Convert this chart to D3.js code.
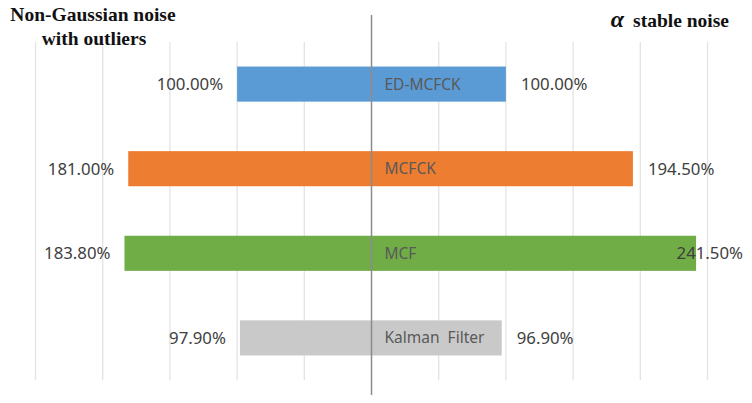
<!DOCTYPE html>
<html><head><meta charset="utf-8">
<script src="https://cdn.jsdelivr.net/npm/d3@7"></script>
<style>body{margin:0;background:#fff}svg{display:block}</style>
</head><body><svg id="c" width="752" height="403"></svg>
<script>
const categories = ["ED-MCFCK", "MCFCK", "MCF", "Kalman  Filter"];
const leftValues = [100.0, 181.0, 183.8, 97.9];   // Non-Gaussian noise with outliers
const rightValues = [100.0, 194.5, 241.5, 96.9];  // alpha stable noise
const colors = ["#5b9bd5", "#ed7d31", "#70ad47", "#c9c9c9"];
const gridTicks = [-250, -200, -150, -100, -50, 0, 50, 100, 150, 200, 250];

const svg = d3.select("#c");
const x = d3.scaleLinear().domain([-250, 250]).range([35.5, 707.5]);
const y = d3.scaleBand().domain(categories).range([42, 380]).paddingInner(0.585).paddingOuter(0.29);

// gridlines
svg.append("g").selectAll("line").data(gridTicks.filter(d => d !== 0)).join("line")
  .attr("x1", d => x(d)).attr("x2", d => x(d)).attr("y1", 42).attr("y2", 380)
  .attr("stroke", "#e3e3e3").attr("stroke-width", 1.3);

const fmt = v => v.toFixed(2) + "%";
const font = "'Noto Sans', sans-serif";
const vfs = 16.8;

// left bars
svg.append("g").selectAll("rect").data(categories).join("rect")
  .attr("x", (d, i) => x(-leftValues[i])).attr("y", d => y(d))
  .attr("width", (d, i) => x(0) - x(-leftValues[i])).attr("height", y.bandwidth())
  .attr("fill", (d, i) => colors[i]);
// right bars
svg.append("g").selectAll("rect").data(categories).join("rect")
  .attr("x", x(0)).attr("y", d => y(d))
  .attr("width", (d, i) => x(rightValues[i]) - x(0)).attr("height", y.bandwidth())
  .attr("fill", (d, i) => colors[i]);

// center axis
svg.append("line").attr("x1", x(0)).attr("x2", x(0)).attr("y1", 15).attr("y2", 395)
  .attr("stroke", "#8c8c8c").attr("stroke-width", 1.5);

// left value labels
svg.append("g").selectAll("text").data(categories).join("text")
  .attr("x", (d, i) => x(-leftValues[i]) - 14).attr("y", d => y(d) + y.bandwidth() / 2)
  .attr("dy", "0.35em").attr("text-anchor", "end")
  .attr("font-family", font).attr("font-size", vfs).attr("fill", "#404040")
  .text((d, i) => fmt(leftValues[i]));
// right value labels
const rightEdge = 743, labelW = 80;
svg.append("g").selectAll("text").data(categories).join("text")
  .attr("y", d => y(d) + y.bandwidth() / 2)
  .attr("dy", "0.35em")
  .attr("text-anchor", (d, i) => x(rightValues[i]) + 15 + labelW > rightEdge ? "end" : "start")
  .attr("x", (d, i) => x(rightValues[i]) + 15 + labelW > rightEdge ? rightEdge : x(rightValues[i]) + 15)
  .attr("font-family", font).attr("font-size", vfs).attr("fill", "#404040")
  .text((d, i) => fmt(rightValues[i]));
// category labels
svg.append("g").selectAll("text").data(categories).join("text")
  .attr("x", x(0) + 13).attr("y", d => y(d) + y.bandwidth() / 2)
  .attr("dy", "0.35em").attr("xml:space", "preserve").style("white-space", "pre")
  .attr("font-family", font).attr("font-size", 15.5).attr("fill", "#595959")
  .text(d => d);

// titles
const tf = "'Liberation Serif', 'Times New Roman', serif";
const tfs = 19.5;
svg.append("text").attr("x", 93).attr("y", 21).attr("text-anchor", "middle")
  .attr("font-family", tf).attr("font-weight", "bold").attr("font-size", tfs).attr("fill", "#111")
  .text("Non-Gaussian noise");
svg.append("text").attr("x", 94).attr("y", 45).attr("text-anchor", "middle")
  .attr("font-family", tf).attr("font-weight", "bold").attr("font-size", tfs).attr("fill", "#111")
  .text("with outliers");
const t2 = svg.append("text").attr("x", 729).attr("y", 27).attr("text-anchor", "end")
  .attr("font-family", tf).attr("font-weight", "bold").attr("font-size", tfs).attr("fill", "#111");
t2.append("tspan").attr("font-style", "italic").attr("font-size", 24).text("α");
t2.append("tspan").attr("dx", 9).text("stable noise");
</script></body></html>
